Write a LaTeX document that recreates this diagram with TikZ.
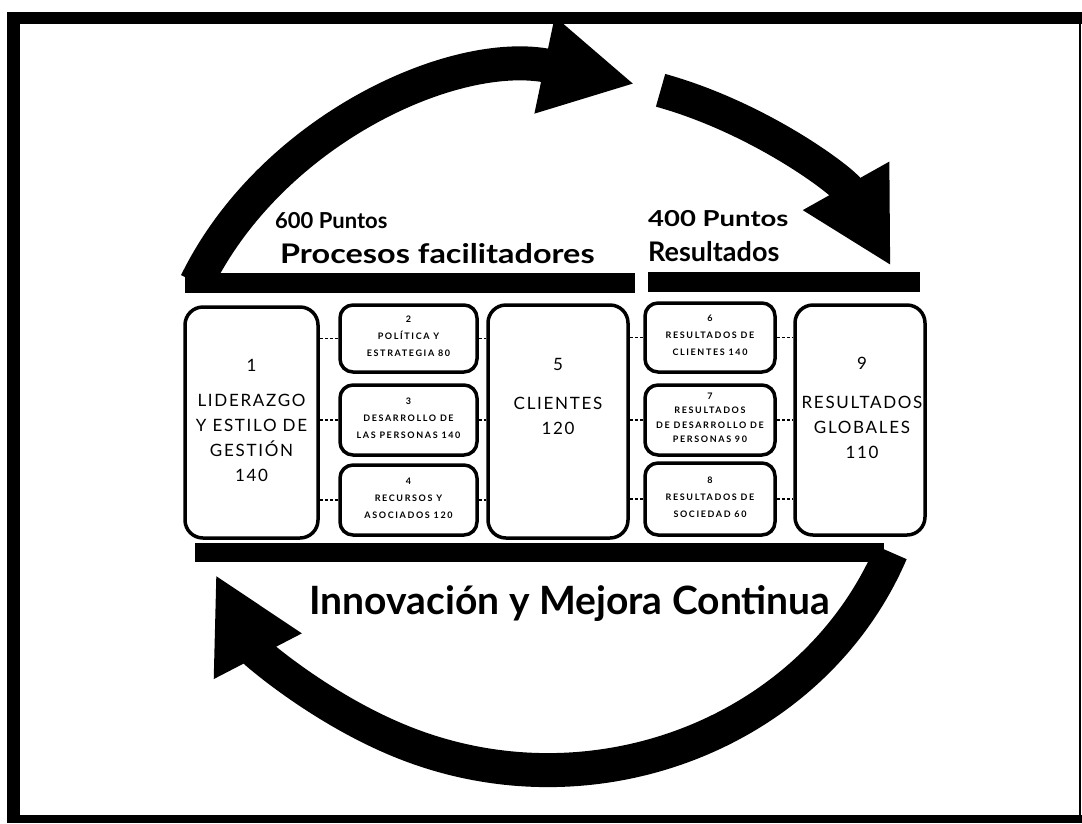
\documentclass[tikz,border=0pt]{standalone}
\usepackage{fontspec}
\setmainfont{Lato}
\newfontfamily\boxfont[LetterSpace=10]{Lato}
\newfontfamily\smallfont[LetterSpace=18]{Lato}
\usetikzlibrary{arrows.meta}
\begin{document}
\begin{tikzpicture}[x=1pt,y=1pt,
  box/.style={draw=black, line width=3.5pt, rounded corners=13pt, fill=white, inner sep=0pt},
  bigbox/.style={box, rounded corners=18pt},
  bigtxt/.style={align=center, font=\boxfont\fontsize{17}{25}\selectfont, inner sep=0pt},
  smalltxt/.style={align=center, font=\smallfont\bfseries\fontsize{9}{17}\selectfont, inner sep=0pt},
  head/.style={anchor=base west, font=\bfseries\fontsize{27}{30}\selectfont, inner sep=0pt},
  pts/.style={anchor=base west, font=\bfseries\fontsize{22}{24}\selectfont, inner sep=0pt},
  link/.style={line width=1.1pt, dash pattern=on 3pt off 2pt},
  bar/.style={fill=black},
  cyc/.style={line width=34pt, -{Triangle[width=92pt,length=92pt]}}
]
\useasboundingbox (0,0) rectangle (1082,-823);
\fill[white] (0,0) rectangle (1082,-823);

% frame
\fill (7,-12) rectangle (1082,-24);
\fill (7,-12) rectangle (20,-823);
\fill (7,-815) rectangle (1082,-823);
\fill (1079,-12) rectangle (1081,-815);

% cycle centres
\coordinate (ctrA) at (548,-425);
\coordinate (ctrB) at (548,-422);

% upper arrows
\draw[cyc] ([shift={(156:385pt and 350pt)}]ctrA)
  arc[start angle=156, end angle=77, x radius=385pt, y radius=350pt];
\draw[cyc] ([shift={(73:385pt and 350pt)}]ctrA)
  arc[start angle=73, end angle=27, x radius=385pt, y radius=350pt];
% lower arrow
\draw[cyc] ([shift={(-22:370pt and 348pt)}]ctrB)
  arc[start angle=-22, end angle=-154, x radius=370pt, y radius=348pt];

% bars
\fill[bar] (185,-273) rectangle (635,-293);
\fill[bar] (648,-272) rectangle (920,-292);
\fill[bar] (195,-543) rectangle (884,-562);

% headings
\node[pts] (p600) at (275,-228) {600 Puntos};
\node[head] (proc) at (280,-263) {\scalebox{1.2}[1]{Procesos facilitadores}};
\node[pts] (p400) at (648,-226) {\scalebox{1.25}[1]{400 Puntos}};
\node[head] (res) at (648,-261) {Resultados};
\node[font=\bfseries\fontsize{39}{44}\selectfont, inner sep=0pt, anchor=base] (inn) at (570,-614) {Innovación y Mejora Continua};

% boxes
\node[bigbox, minimum width=133pt, minimum height=231pt] (b1) at (251.5,-422.5) {};
\node[box, minimum width=137pt, minimum height=67pt] (b2) at (408.5,-338.5) {};
\node[box, minimum width=137pt, minimum height=70pt] (b3) at (408.5,-420) {};
\node[box, minimum width=137pt, minimum height=70pt] (b4) at (408.5,-500) {};
\node[bigbox, minimum width=140pt, minimum height=233pt] (b5) at (558,-421.5) {};
\node[box, minimum width=130pt, minimum height=69pt] (b6) at (710,-337.5) {};
\node[box, minimum width=130pt, minimum height=70pt] (b7) at (710,-420) {};
\node[box, minimum width=130pt, minimum height=72pt] (b8) at (710,-499) {};
\node[bigbox, minimum width=130pt, minimum height=230pt] (b9) at (860,-420) {};

% box texts
\node[bigtxt] (t1) at (251.5,-420) {1\\[10pt]LIDERAZGO\\Y ESTILO DE\\GESTIÓN\\140};
\node[bigtxt] (t5) at (558,-396) {5\\[14pt]CLIENTES\\120};
\node[bigtxt] (t9) at (862,-408) {9\\[14pt]RESULTADOS\\GLOBALES\\110};
\node[smalltxt] (t2) at (408.5,-336) {2\\POLÍTICA Y\\ESTRATEGIA 80};
\node[smalltxt] (t3) at (408.5,-418) {3\\DESARROLLO DE\\LAS PERSONAS 140};
\node[smalltxt] (t4) at (408.5,-498) {4\\RECURSOS Y\\ASOCIADOS 120};
\node[smalltxt] (t6) at (710,-335) {6\\RESULTADOS DE\\CLIENTES 140};
\node[smalltxt, font=\smallfont\bfseries\fontsize{9}{14.5}\selectfont] (t7) at (710,-418) {7\\RESULTADOS\\DE DESARROLLO DE\\PERSONAS 90};
\node[smalltxt] (t8) at (710,-497) {8\\RESULTADOS DE\\SOCIEDAD 60};

% links
\foreach \s in {b2,b3,b4} {
  \draw[link] (b1.east |- \s.west) -- (\s.west);
  \draw[link] (\s.east) -- (b5.west |- \s.east);
}
\foreach \s in {b6,b7,b8} {
  \draw[link] (b5.east |- \s.west) -- (\s.west);
  \draw[link] (\s.east) -- (b9.west |- \s.east);
}
\end{tikzpicture}
\end{document}
